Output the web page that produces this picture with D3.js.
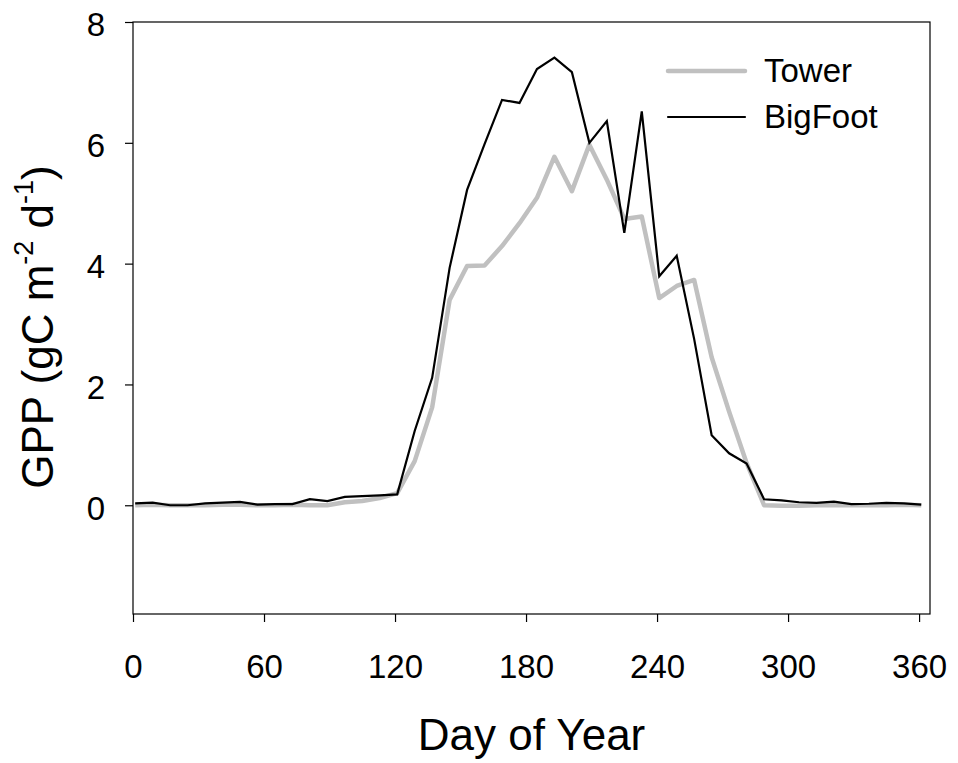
<!DOCTYPE html>
<html>
<head>
<meta charset="utf-8">
<script src="https://cdn.jsdelivr.net/npm/d3@7"></script>
<style>
  html, body { margin: 0; padding: 0; background: #fff; }
  svg { display: block; }
  text { font-family: "Liberation Sans", Arial, sans-serif; fill: #000; }
</style>
</head>
<body>
<svg id="chart" width="958" height="763"></svg>
<script>
const days = [1, 9, 17, 25, 33, 41, 49, 57, 65, 73, 81, 89, 97, 105, 113, 121,
  129, 137, 145, 153, 161, 169, 177, 185, 193, 201, 209, 217, 225, 233, 241, 249,
  257, 265, 273, 281, 289, 297, 305, 313, 321, 329, 337, 345, 353, 361];

const towerGPP = [0.00, 0.01, 0.00, 0.00, 0.00, 0.01, 0.01, 0.00, 0.00, 0.01, 0.00, 0.00,
  0.05, 0.07, 0.12, 0.20, 0.73, 1.62, 3.40, 3.96, 3.97, 4.29, 4.67, 5.09, 5.77, 5.20,
  5.97, 5.39, 4.74, 4.78, 3.43, 3.63, 3.73, 2.45, 1.55, 0.70, 0.00, -0.01, -0.01, 0.00,
  0.00, 0.00, 0.00, 0.00, 0.01, 0.00];

const bigfootGPP = [0.03, 0.045, 0.00, 0.00, 0.03, 0.045, 0.055, 0.01, 0.02, 0.02, 0.10, 0.07,
  0.14, 0.15, 0.165, 0.18, 1.23, 2.11, 3.93, 5.22, 5.98, 6.71, 6.66, 7.22, 7.41, 7.17,
  6.00, 6.36, 4.51, 6.52, 3.79, 4.13, 2.75, 1.16, 0.86, 0.69, 0.10, 0.08, 0.05, 0.04,
  0.06, 0.02, 0.025, 0.04, 0.03, 0.01];

const xTicks = [0, 60, 120, 180, 240, 300, 360];
const yTicks = [0, 2, 4, 6, 8];
const seriesNames = ["Tower", "BigFoot"];

const svg = d3.select("#chart");
const L = 133, R = 930, T = 22, B = 614;

const x = d3.scaleLinear().domain([0, 365]).range([L, R]);
const y = d3.scaleLinear().domain([-1.8, 8]).range([B, T]);

// frame
svg.append("rect")
  .attr("x", L).attr("y", T).attr("width", R - L).attr("height", B - T)
  .attr("fill", "none").attr("stroke", "#000").attr("stroke-width", 1.2);

// x axis
const xAxis = svg.append("g")
  .attr("transform", `translate(0,${B})`)
  .call(d3.axisBottom(x).tickValues(xTicks).tickSize(8).tickPadding(33).tickSizeOuter(0));
xAxis.select(".domain").remove();
xAxis.selectAll("line").attr("stroke", "#000").attr("stroke-width", 1.2);
xAxis.selectAll("text").attr("font-size", 33)
  .attr("font-family", "Liberation Sans, Arial, sans-serif").attr("fill", "#000");

// y axis
const yAxis = svg.append("g")
  .attr("transform", `translate(${L},0)`)
  .call(d3.axisLeft(y).tickValues(yTicks).tickSize(8).tickPadding(20).tickSizeOuter(0));
yAxis.select(".domain").remove();
yAxis.selectAll("line").attr("stroke", "#000").attr("stroke-width", 1.2);
yAxis.selectAll("text").attr("font-size", 33).attr("dy", "0.42em")
  .attr("font-family", "Liberation Sans, Arial, sans-serif").attr("fill", "#000");

// lines
const line = d3.line().x((d, i) => x(days[i])).y(d => y(d));

svg.append("path").datum(towerGPP)
  .attr("d", line).attr("fill", "none")
  .attr("stroke", "#c0c0c0").attr("stroke-width", 4.5).attr("stroke-linejoin", "round");

svg.append("path").datum(bigfootGPP)
  .attr("d", line).attr("fill", "none")
  .attr("stroke", "#000").attr("stroke-width", 2.2).attr("stroke-linejoin", "miter");

// legend
const legend = svg.append("g");
const legItems = [
  { name: seriesNames[0], color: "#c0c0c0", w: 4.5, ly: 71 },
  { name: seriesNames[1], color: "#000", w: 2.2, ly: 117 }
];
legItems.forEach(it => {
  legend.append("line").attr("x1", 668).attr("x2", 745).attr("y1", it.ly).attr("y2", it.ly)
    .attr("stroke", it.color).attr("stroke-width", it.w).attr("stroke-linecap", "round");
  legend.append("text").attr("x", 764).attr("y", it.ly + 11)
    .attr("font-size", 33).text(it.name);
});

// axis titles
svg.append("text")
  .attr("x", (L + R) / 2).attr("y", 750)
  .attr("text-anchor", "middle").attr("font-size", 44)
  .text("Day of Year");

const yl = svg.append("text")
  .attr("transform", `translate(53,327) rotate(-90)`)
  .attr("text-anchor", "middle").attr("font-size", 44);
yl.append("tspan").text("GPP (gC m");
yl.append("tspan").attr("font-size", 27).attr("dy", "-0.75em").text("-2");
yl.append("tspan").attr("dy", "0.46em").text(" d");
yl.append("tspan").attr("font-size", 27).attr("dy", "-0.75em").text("-1");
yl.append("tspan").attr("dy", "0.46em").text(")");
</script>
</body>
</html>
